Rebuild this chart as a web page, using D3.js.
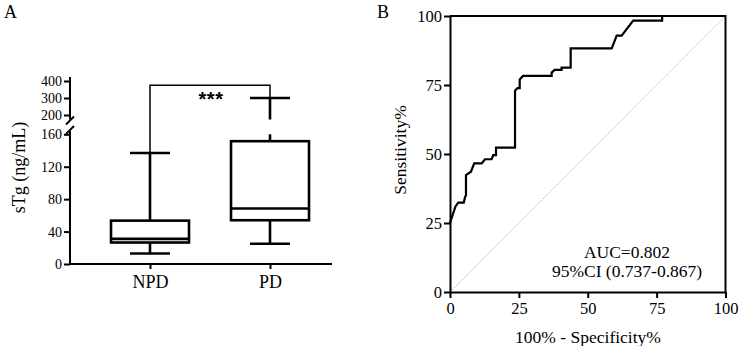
<!DOCTYPE html>
<html><head><meta charset="utf-8">
<script src="https://cdn.jsdelivr.net/npm/d3@7/dist/d3.min.js"></script>
<style>
body{margin:0;background:#fff;}
svg{display:block;font-family:"Liberation Serif","Times New Roman",serif;}
</style></head>
<body><svg id="c" width="741" height="346"></svg>
<script>
// ---- Panel A data ----
const groups = ["NPD", "PD"];
const whiskerMin = [13, 25];
const q1 = [26.5, 54];
const median = [31, 68.5];
const q3 = [53.5, 151.5];
const whiskerMax = [137, 300];
const lowTicks = [0, 40, 80, 120, 160];
const highTicks = [200, 300, 400];
const sigLabel = "***";
const yLabelA = "sTg (ng/mL)";

// ---- Panel B data ----
const fpr = [0, 1, 2, 3, 5, 5.5, 5.8, 5.8, 7.6, 8.8, 11.5, 12.7, 15.1, 15.7, 16.7, 16.7, 23.6, 23.6, 24.5, 25.3, 25.3, 26.5, 36.9, 36.9, 38, 40.5, 40.5, 43.8, 43.8, 58.7, 60.5, 62.3, 66.5, 77, 77, 100];
const tpr = [25, 28, 31, 32.4, 32.4, 34.5, 35, 42.4, 43.6, 46.6, 46.6, 48.1, 48.1, 49.6, 49.6, 52.3, 52.3, 72.9, 73.9, 73.9, 77, 78.3, 78.3, 79.5, 80.5, 80.5, 81.3, 81.3, 88.3, 88.3, 92.9, 92.9, 98.3, 98.3, 100, 100];
const rocTicks = [0, 25, 50, 75, 100];
const aucLines = ["AUC=0.802", "95%CI (0.737-0.867)"];
const xLabelB = "100% - Specificity%";
const yLabelB = "Sensitivity%";

const svg = d3.select("#c");

// ================= Panel A =================
const A = svg.append("g");
A.append("text").attr("x", 4).attr("y", 17.5).attr("font-size", 18).text("A");

const yLow = d3.scaleLinear().domain([0, 160]).range([264, 134.3]);
const yHigh = d3.scaleLinear().domain([200, 400]).range([115, 81]);
const x = d3.scalePoint().domain(groups).range([150, 270]);
const axX = 70;
const lowTop = 131, highBot = 119.5, highTop = 77;

// y axis segments
A.append("line").attr("x1", axX).attr("x2", axX).attr("y1", 265).attr("y2", lowTop)
  .attr("stroke", "#000").attr("stroke-width", 2);
A.append("line").attr("x1", axX).attr("x2", axX).attr("y1", highBot).attr("y2", highTop)
  .attr("stroke", "#000").attr("stroke-width", 2);
// break marks
[highBot + 1, lowTop - 1].forEach(yy => {
  A.append("line").attr("x1", axX - 4).attr("y1", yy + 4).attr("x2", axX + 4).attr("y2", yy - 4)
    .attr("stroke", "#000").attr("stroke-width", 1.8);
});

const gLow = A.append("g").attr("transform", `translate(${axX},0)`)
  .call(d3.axisLeft(yLow).tickValues(lowTicks).tickSize(6).tickPadding(2).tickFormat(d3.format("d")));
const gHigh = A.append("g").attr("transform", `translate(${axX},0)`)
  .call(d3.axisLeft(yHigh).tickValues(highTicks).tickSize(6).tickPadding(2).tickFormat(d3.format("d")));
[gLow, gHigh].forEach(g => {
  g.select(".domain").remove();
  g.selectAll(".tick line").attr("stroke-width", 2);
  g.selectAll(".tick text").attr("font-size", 14).attr("font-family", "Liberation Serif").attr("fill", "#000");
});

// x axis
A.append("line").attr("x1", axX - 1).attr("x2", 332).attr("y1", 264).attr("y2", 264)
  .attr("stroke", "#000").attr("stroke-width", 2);
const gx = A.append("g").attr("transform", "translate(0,264)")
  .call(d3.axisBottom(x).tickSize(5).tickPadding(6));
gx.select(".domain").remove();
gx.selectAll(".tick line").attr("stroke-width", 2);
gx.selectAll(".tick text").attr("font-size", 18).attr("font-family", "Liberation Serif").attr("fill", "#000");

// value->y with break
function yv(v) { return v <= 160 ? yLow(v) : yHigh(v); }

const boxW = 78, capW = 40, sw = 2.6;
groups.forEach((g, i) => {
  const cx = x(g);
  const G = A.append("g").attr("stroke", "#000").attr("stroke-width", sw).attr("fill", "none");
  if (whiskerMax[i] > 160) {
    G.append("line").attr("x1", cx).attr("x2", cx).attr("y1", yLow(q3[i])).attr("y2", yLow(160));
    G.append("line").attr("x1", cx).attr("x2", cx).attr("y1", highBot).attr("y2", yHigh(whiskerMax[i]));
  } else {
    G.append("line").attr("x1", cx).attr("x2", cx).attr("y1", yv(q3[i])).attr("y2", yv(whiskerMax[i]));
  }
  G.append("line").attr("x1", cx).attr("x2", cx).attr("y1", yv(q1[i])).attr("y2", yv(whiskerMin[i]));
  [whiskerMax[i], whiskerMin[i]].forEach(v => {
    G.append("line").attr("x1", cx - capW / 2).attr("x2", cx + capW / 2).attr("y1", yv(v)).attr("y2", yv(v));
  });
  G.append("rect").attr("x", cx - boxW / 2).attr("width", boxW)
    .attr("y", yv(q3[i])).attr("height", yv(q1[i]) - yv(q3[i]));
  G.append("line").attr("x1", cx - boxW / 2).attr("x2", cx + boxW / 2).attr("y1", yv(median[i])).attr("y2", yv(median[i]));
});

// significance bracket
const brY = yHigh(375);
A.append("path")
  .attr("d", `M${x(groups[0])},${yv(whiskerMax[0])}V${brY}H${x(groups[1])}V${yv(whiskerMax[1])}`)
  .attr("fill", "none").attr("stroke", "#000").attr("stroke-width", 1.5);
A.append("text").attr("x", (x(groups[0]) + x(groups[1])) / 2 + 1).attr("y", 106)
  .attr("text-anchor", "middle").attr("font-family", "Liberation Sans, Arial, sans-serif")
  .attr("font-size", 20).attr("font-weight", "bold").attr("letter-spacing", 0.5).text(sigLabel);

A.append("text").attr("transform", "translate(24.6,167.5) rotate(-90)")
  .attr("text-anchor", "middle").attr("font-size", 18).text(yLabelA);

// ================= Panel B =================
const B = svg.append("g");
B.append("text").attr("x", 377).attr("y", 17.5).attr("font-size", 18).text("B");

const xr = d3.scaleLinear().domain([0, 100]).range([450, 725.5]);
const yr = d3.scaleLinear().domain([0, 100]).range([292, 16]);

B.append("path").attr("d", `M${xr(0)},${yr(100)}H${xr(100)}V${yr(0)}`)
  .attr("fill", "none").attr("stroke", "#000").attr("stroke-width", 2);

B.append("line").attr("x1", xr(0)).attr("y1", yr(0)).attr("x2", xr(100)).attr("y2", yr(100))
  .attr("stroke", "#888").attr("stroke-width", 0.8).attr("stroke-dasharray", "1.2,1.6");

const pts = fpr.map((f, i) => [f, tpr[i]]);
B.append("path").datum(pts)
  .attr("d", d3.line().x(d => xr(d[0])).y(d => yr(d[1])))
  .attr("fill", "none").attr("stroke", "#000").attr("stroke-width", 2.2).attr("stroke-linejoin", "miter");

const gbx = B.append("g").attr("transform", `translate(0,${yr(0)})`)
  .call(d3.axisBottom(xr).tickValues(rocTicks).tickSize(6).tickSizeOuter(0).tickPadding(4));
const gby = B.append("g").attr("transform", `translate(${xr(0)},0)`)
  .call(d3.axisLeft(yr).tickValues(rocTicks).tickSize(6).tickSizeOuter(0).tickPadding(2));
[gbx, gby].forEach(g => {
  g.select(".domain").attr("stroke-width", 2);
  g.selectAll(".tick line").attr("stroke-width", 2);
  g.selectAll(".tick text").attr("font-size", 16.5).attr("font-family", "Liberation Serif").attr("fill", "#000");
});

B.append("text").attr("x", 588).attr("y", 343).attr("text-anchor", "middle")
  .attr("font-size", 17.5).text(xLabelB);
B.append("text").attr("transform", "translate(406,150) rotate(-90)")
  .attr("text-anchor", "middle").attr("font-size", 17.5).text(yLabelB);

aucLines.forEach((t, i) => {
  B.append("text").attr("x", 627).attr("y", 258 + i * 19).attr("text-anchor", "middle")
    .attr("font-size", 17.5).text(t);
});
</script></body></html>
